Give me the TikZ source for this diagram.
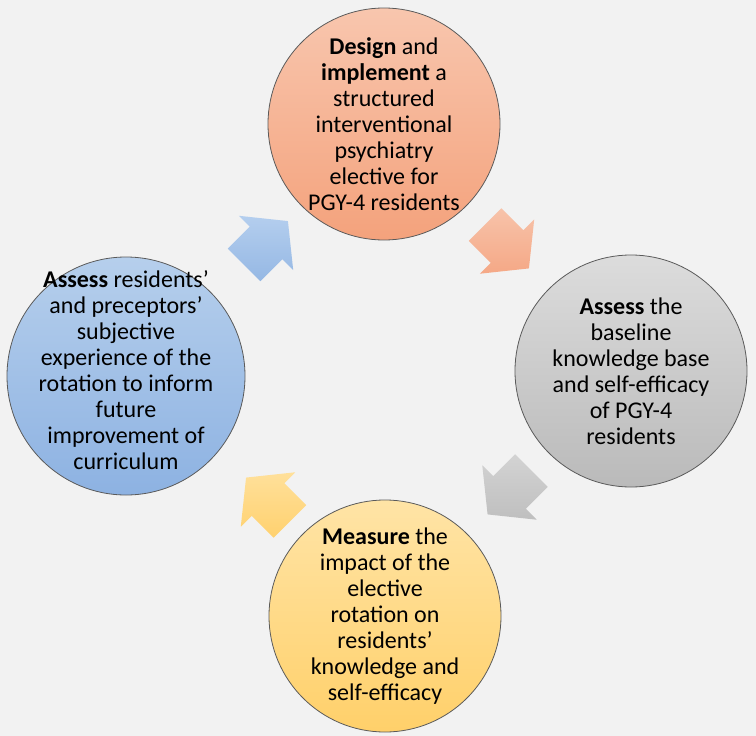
\documentclass[tikz,border=0pt]{standalone}
\usepackage{fontspec}
\setmainfont{Carlito}
\usetikzlibrary{calc}
\definecolor{bgcol}{HTML}{F2F2F2}
\definecolor{rimcol}{HTML}{5A5A5A}
\definecolor{salTop}{HTML}{F8C6AE}\definecolor{salBot}{HTML}{F4A27C}
\definecolor{graTop}{HTML}{DCDCDC}\definecolor{graBot}{HTML}{BABABA}
\definecolor{yelTop}{HTML}{FFE4A6}\definecolor{yelBot}{HTML}{FFD06A}
\definecolor{bluTop}{HTML}{B6CFEC}\definecolor{bluBot}{HTML}{8DB2E2}
\definecolor{asalTop}{HTML}{F7C3AA}\definecolor{asalBot}{HTML}{F5A886}
\definecolor{agraTop}{HTML}{D3D3D3}\definecolor{agraBot}{HTML}{BFBFBF}
\definecolor{ayelTop}{HTML}{FFE09A}\definecolor{ayelBot}{HTML}{FFD16F}
\definecolor{abluTop}{HTML}{B4CEEE}\definecolor{abluBot}{HTML}{95B8E4}
\newcommand\blockarrow[4]{%
  \coordinate (#4) at (#1,#2);
  \shade[top color=a#4Top, bottom color=a#4Bot]
    ($(#4)+(#3+180:31)+(#3-90:23)$) --
    ($(#4)+(#3-90:23)$) --
    ($(#4)+(#3-90:38.5)$) --
    ($(#4)+(#3:31)$) --
    ($(#4)+(#3+90:38.5)$) --
    ($(#4)+(#3+90:23)$) --
    ($(#4)+(#3+180:31)+(#3+90:23)$) -- cycle;}
\begin{document}
\begin{tikzpicture}[x=1pt,y=-1pt,
  stage/.style={circle, minimum size=232pt, inner sep=0pt, draw=rimcol,
    line width=0.8pt},
  stagetext/.style={align=center, inner sep=0pt, font=\fontsize{24}{26}\selectfont}]
\fill[bgcol] (0,0) rectangle (756,736);
\useasboundingbox (0,0) rectangle (756,736);
\node[stage, top color=salTop, bottom color=salBot] (design) at (384,124) {};
\node[stagetext] (designtext) at (design.center)
  {\textbf{Design} and\\ \textbf{implement} a\\ structured\\ interventional\\ psychiatry\\ elective for\\ PGY-4 residents};
\node[stage, top color=graTop, bottom color=graBot] (baseline) at (631,371) {};
\node[stagetext] (baselinetext) at (baseline.center)
  {\textbf{Assess} the\\ baseline\\ knowledge base\\ and self-efficacy\\ of PGY-4\\ residents};
\node[stage, top color=yelTop, bottom color=yelBot] (measure) at (385,616) {};
\node[stagetext] (measuretext) at (measure.center)
  {\textbf{Measure} the\\ impact of the\\ elective\\ rotation on\\ residents’\\ knowledge and\\ self-efficacy};
\node[stage, minimum size=238pt, top color=bluTop, bottom color=bluBot] (feedback) at (126,376) {};
\node[stagetext] (feedbacktext) at (126,370)
  {\textbf{Assess} residents’\\ and preceptors’\\ subjective\\ experience of the\\ rotation to inform\\ future\\ improvement of\\ curriculum};
\blockarrow{507}{246.5}{45}{sal}
\blockarrow{509.5}{492.5}{135}{gra}
\blockarrow{268}{499.5}{225}{yel}
\blockarrow{266}{243}{315}{blu}
\end{tikzpicture}
\end{document}
